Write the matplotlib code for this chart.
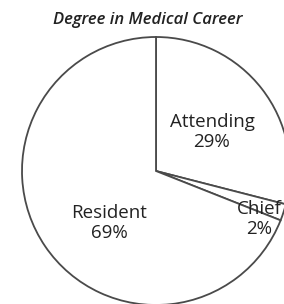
import matplotlib
matplotlib.use("Agg")
import matplotlib.pyplot as plt

categories = ["Attending", "Chief", "Resident"]
values = [29, 2, 69]
title = "Degree in Medical Career"

W, H = 284, 304
fig = plt.figure(figsize=(W / 100, H / 100), dpi=100)
ax = fig.add_axes([0, 0, 1, 1])

cx, cy, r = 156, 304 - 171, 134
wedges, _ = ax.pie(values, startangle=90, counterclock=False, center=(cx, cy), radius=r,
                   colors=["white"] * 3,
                   wedgeprops=dict(edgecolor="#4a4a4a", linewidth=1.3), frame=True)
ax.set_xlim(0, W)
ax.set_ylim(0, H)
ax.set_aspect("equal")
ax.axis("off")

# label offsets (pixels relative to pie centre)
offsets = [(56, 39), (103, -48), (-47, -52)]
for cat, v, (dx, dy) in zip(categories, values, offsets):
    ax.text(cx + dx, cy + dy, f"{cat}\n{v}%", ha="center", va="center",
            fontsize=13.5, family="Open Sans", color="#222222", linespacing=1.15)

ax.text(148, 284, title, ha="center", va="center", fontsize=12, style="italic",
        fontweight="semibold", family="Open Sans", color="#222222")

fig.savefig("out.png", dpi=100, facecolor="white")
